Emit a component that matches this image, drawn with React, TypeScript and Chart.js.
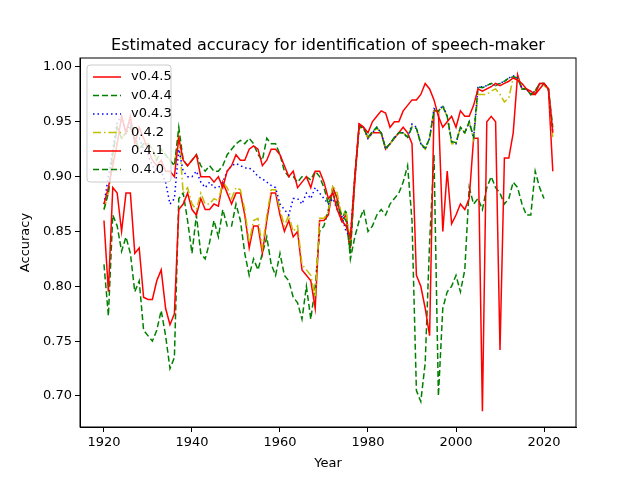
import React, { useEffect, useRef } from "react";
import { Chart, registerables } from "chart.js";

Chart.register(...registerables);

const startYear = 1920;

const v045 = [0.875, 0.89, 0.91, 0.93, 0.955, 0.94, 0.955, 0.93, 0.945, 0.935, 0.925, 0.915, 0.91, 0.915, 0.905, 0.905, 0.9, 0.935, 0.915, 0.91, 0.915, 0.92, 0.9, 0.9, 0.9, 0.895, 0.9, 0.89, 0.905, 0.91, 0.92, 0.915, 0.915, 0.925, 0.928, 0.925, 0.91, 0.915, 0.925, 0.925, 0.92, 0.91, 0.9, 0.905, 0.89, 0.895, 0.9, 0.89, 0.905, 0.905, 0.895, 0.88, 0.885, 0.87, 0.86, 0.855, 0.845, 0.9, 0.948, 0.945, 0.94, 0.95, 0.955, 0.96, 0.958, 0.945, 0.95, 0.95, 0.96, 0.965, 0.97, 0.97, 0.975, 0.985, 0.98, 0.97, 0.955, 0.945, 0.95, 0.955, 0.945, 0.96, 0.955, 0.955, 0.965, 0.98, 0.978, 0.98, 0.982, 0.985, 0.983, 0.985, 0.987, 0.99, 0.988, 0.985, 0.98, 0.978, 0.975, 0.985, 0.985, 0.98, 0.94];
const v044 = [0.87, 0.885, 0.92, 0.945, 0.935, 0.94, 0.945, 0.935, 0.925, 0.93, 0.93, 0.925, 0.915, 0.925, 0.92, 0.915, 0.91, 0.945, 0.915, 0.91, 0.915, 0.92, 0.91, 0.905, 0.91, 0.905, 0.905, 0.91, 0.92, 0.925, 0.93, 0.933, 0.93, 0.935, 0.93, 0.92, 0.915, 0.935, 0.93, 0.93, 0.92, 0.905, 0.9, 0.9, 0.895, 0.9, 0.9, 0.897, 0.905, 0.9, 0.89, 0.875, 0.885, 0.875, 0.865, 0.86, 0.83, 0.9, 0.946, 0.944, 0.936, 0.941, 0.945, 0.94, 0.926, 0.93, 0.936, 0.94, 0.94, 0.936, 0.945, 0.944, 0.93, 0.926, 0.935, 0.96, 0.96, 0.964, 0.955, 0.932, 0.931, 0.945, 0.94, 0.95, 0.936, 0.982, 0.981, 0.983, 0.985, 0.983, 0.985, 0.987, 0.99, 0.991, 0.99, 0.98, 0.98, 0.975, 0.978, 0.985, 0.985, 0.98, 0.945];
const v043 = [0.875, 0.9, 0.925, 0.95, 0.955, 0.94, 0.95, 0.93, 0.935, 0.925, 0.92, 0.91, 0.905, 0.905, 0.895, 0.875, 0.88, 0.925, 0.905, 0.9, 0.9, 0.905, 0.895, 0.89, 0.895, 0.89, 0.89, 0.895, 0.905, 0.91, 0.912, 0.91, 0.908, 0.908, 0.905, 0.9, 0.898, 0.895, 0.892, 0.89, 0.875, 0.87, 0.865, 0.88, 0.88, 0.875, 0.885, 0.88, 0.89, 0.885, 0.88, 0.875, 0.88, 0.87, 0.865, 0.85, 0.845, 0.9, 0.945, 0.945, 0.935, 0.94, 0.945, 0.94, 0.925, 0.93, 0.935, 0.94, 0.94, 0.935, 0.948, 0.945, 0.93, 0.925, 0.935, 0.962, 0.96, 0.965, 0.955, 0.932, 0.93, 0.945, 0.94, 0.95, 0.935, 0.982, 0.982, 0.983, 0.985, 0.983, 0.985, 0.987, 0.99, 0.992, 0.99, 0.98, 0.98, 0.975, 0.978, 0.985, 0.985, 0.98, 0.94];
const v042 = [0.87, 0.885, 0.92, 0.945, 0.935, 0.94, 0.945, 0.935, 0.925, 0.93, 0.93, 0.925, 0.915, 0.925, 0.92, 0.915, 0.91, 0.94, 0.885, 0.89, 0.875, 0.87, 0.885, 0.875, 0.875, 0.88, 0.878, 0.895, 0.89, 0.88, 0.89, 0.888, 0.87, 0.84, 0.86, 0.862, 0.835, 0.865, 0.888, 0.888, 0.87, 0.855, 0.865, 0.85, 0.855, 0.82, 0.815, 0.81, 0.79, 0.862, 0.862, 0.868, 0.892, 0.885, 0.865, 0.868, 0.84, 0.9, 0.945, 0.943, 0.935, 0.94, 0.944, 0.94, 0.925, 0.93, 0.935, 0.94, 0.94, 0.936, 0.946, 0.944, 0.93, 0.925, 0.935, 0.962, 0.958, 0.964, 0.955, 0.93, 0.93, 0.945, 0.94, 0.95, 0.934, 0.975, 0.975, 0.975, 0.978, 0.98, 0.975, 0.968, 0.972, 0.99, 0.99, 0.98, 0.98, 0.975, 0.978, 0.985, 0.983, 0.98, 0.935];
const v041 = [0.86, 0.795, 0.89, 0.885, 0.85, 0.885, 0.885, 0.83, 0.835, 0.79, 0.788, 0.788, 0.805, 0.815, 0.78, 0.765, 0.775, 0.87, 0.875, 0.885, 0.87, 0.865, 0.88, 0.87, 0.87, 0.875, 0.873, 0.895, 0.885, 0.875, 0.885, 0.885, 0.865, 0.835, 0.855, 0.855, 0.83, 0.86, 0.885, 0.885, 0.865, 0.85, 0.86, 0.845, 0.85, 0.815, 0.81, 0.805, 0.78, 0.86, 0.86, 0.865, 0.89, 0.88, 0.86, 0.865, 0.835, 0.895, 0.948, 0.945, 0.935, 0.94, 0.94, 0.94, 0.925, 0.93, 0.935, 0.94, 0.945, 0.94, 0.93, 0.81, 0.8, 0.78, 0.755, 0.96, 0.96, 0.85, 0.905, 0.857, 0.865, 0.875, 0.87, 0.88, 0.935, 0.935, 0.686, 0.95, 0.955, 0.95, 0.742, 0.917, 0.917, 0.94, 0.993, 0.98, 0.98, 0.975, 0.975, 0.98, 0.985, 0.98, 0.905];
const v040 = [0.82, 0.773, 0.865, 0.855, 0.832, 0.845, 0.83, 0.795, 0.805, 0.76, 0.755, 0.75, 0.76, 0.778, 0.755, 0.725, 0.735, 0.88, 0.885, 0.86, 0.83, 0.865, 0.83, 0.825, 0.84, 0.86, 0.845, 0.87, 0.855, 0.855, 0.875, 0.86, 0.83, 0.81, 0.825, 0.815, 0.83, 0.845, 0.82, 0.81, 0.83, 0.81, 0.805, 0.79, 0.785, 0.77, 0.8, 0.77, 0.8, 0.85, 0.855, 0.87, 0.89, 0.88, 0.86, 0.87, 0.825, 0.845, 0.86, 0.87, 0.85, 0.855, 0.865, 0.87, 0.865, 0.875, 0.88, 0.885, 0.895, 0.91, 0.86, 0.705, 0.695, 0.73, 0.84, 0.92, 0.7, 0.78, 0.795, 0.8, 0.81, 0.795, 0.815, 0.89, 0.875, 0.88, 0.87, 0.89, 0.9, 0.89, 0.885, 0.875, 0.88, 0.895, 0.89, 0.875, 0.865, 0.865, 0.905, 0.89, 0.88];

const seriesNames = ["v0.4.5", "v0.4.4", "v0.4.3", "0.4.2", "0.4.1", "0.4.0"];
const seriesValues = [v045, v044, v043, v042, v041, v040];
const seriesColors = ["#ff0000", "#008000", "#0000ff", "#bfbf00", "#ff0000", "#008000"];
const seriesDashes: number[][] = [[], [6, 3], [1.5, 3], [8, 3, 1.5, 3], [], [6, 3]];
const xTicks = [1920, 1940, 1960, 1980, 2000, 2020];

// frame, title and legend drawn inside the plot like matplotlib
const innerLegend = {
	id: "innerLegend",
	afterDraw(chart: Chart) {
		const { ctx, chartArea } = chart;
		ctx.save();
		ctx.strokeStyle = "#000";
		ctx.lineWidth = 1;
		ctx.strokeRect(chartArea.left, chartArea.top, chartArea.right - chartArea.left, chartArea.bottom - chartArea.top);
		const x0 = chartArea.left + 7;
		const y0 = chartArea.top + 7;
		const w = 84;
		const rowH = 18.5;
		ctx.fillStyle = "rgba(255,255,255,0.8)";
		ctx.strokeStyle = "#cccccc";
		ctx.beginPath();
		ctx.roundRect(x0, y0, w, rowH * seriesNames.length + 6, 3);
		ctx.fill();
		ctx.stroke();
		ctx.font = "13px 'DejaVu Sans'";
		ctx.textBaseline = "middle";
		seriesNames.forEach((name, i) => {
			const y = y0 + 12 + i * rowH;
			ctx.strokeStyle = seriesColors[i];
			ctx.lineWidth = 1.5;
			ctx.setLineDash(seriesDashes[i]);
			ctx.beginPath();
			ctx.moveTo(x0 + 6, y);
			ctx.lineTo(x0 + 34, y);
			ctx.stroke();
			ctx.setLineDash([]);
			ctx.fillStyle = "#000";
			ctx.fillText(name, x0 + 44, y);
		});
		ctx.font = "16px 'DejaVu Sans'";
		ctx.textAlign = "center";
		ctx.textBaseline = "alphabetic";
		ctx.fillText("Estimated accuracy for identification of speech-maker", (chartArea.left + chartArea.right) / 2, chartArea.top - 8);
		ctx.restore();
	},
};

const App: React.FC = () => {
	const chartRef = useRef<HTMLCanvasElement>(null);

	useEffect(() => {
		if (!chartRef.current) return;
		const chart = new Chart(chartRef.current, {
			type: "line",
			data: {
				datasets: seriesValues.map((vals, i) => ({
					label: seriesNames[i],
					data: vals.map((v, j) => ({ x: startYear + j, y: v })),
					borderColor: seriesColors[i],
					borderWidth: 1.5,
					borderDash: seriesDashes[i],
					pointRadius: 0,
					fill: false,
					tension: 0,
				})),
			},
			options: {
				animation: false,
				responsive: false,
				layout: { padding: { top: 58, right: 64, left: 14, bottom: 5 } },
				plugins: { legend: { display: false }, tooltip: { enabled: false } },
				scales: {
					x: {
						type: "linear",
						min: 1914.55,
						max: 2027.27,
						afterBuildTicks: (axis: any) => {
							axis.ticks = xTicks.map((v) => ({ value: v }));
						},
						afterFit: (axis: any) => {
							axis.height = 48;
						},
						grid: { drawOnChartArea: false, tickLength: 5, color: "#000" },
						border: { color: "#000" },
						ticks: { color: "#000", font: { family: "DejaVu Sans", size: 13 }, padding: 3, maxRotation: 0, callback: (v: any) => String(v) },
						title: { display: true, text: "Year", color: "#000", font: { family: "DejaVu Sans", size: 13 }, padding: { top: 0 } },
					},
					y: {
						min: 0.6717,
						max: 1.0082,
						afterBuildTicks: (axis: any) => {
							axis.ticks = [0.7, 0.75, 0.8, 0.85, 0.9, 0.95, 1.0].map((v) => ({ value: v }));
						},
						afterFit: (axis: any) => {
							axis.width = 66;
						},
						grid: { drawOnChartArea: false, tickLength: 5, color: "#000" },
						border: { color: "#000" },
						ticks: { color: "#000", font: { family: "DejaVu Sans", size: 13 }, padding: 3, callback: (v: any) => Number(v).toFixed(2) },
						title: { display: true, text: "Accuracy", color: "#000", font: { family: "DejaVu Sans", size: 13 }, padding: { bottom: 0 } },
					},
				},
			},
			plugins: [innerLegend],
		});
		return () => chart.destroy();
	}, []);

	return (
		<div style={{ width: 640, height: 480, margin: -8, background: "#fff" }}>
			<canvas ref={chartRef} width={640} height={480}></canvas>
		</div>
	);
};

export default App;
